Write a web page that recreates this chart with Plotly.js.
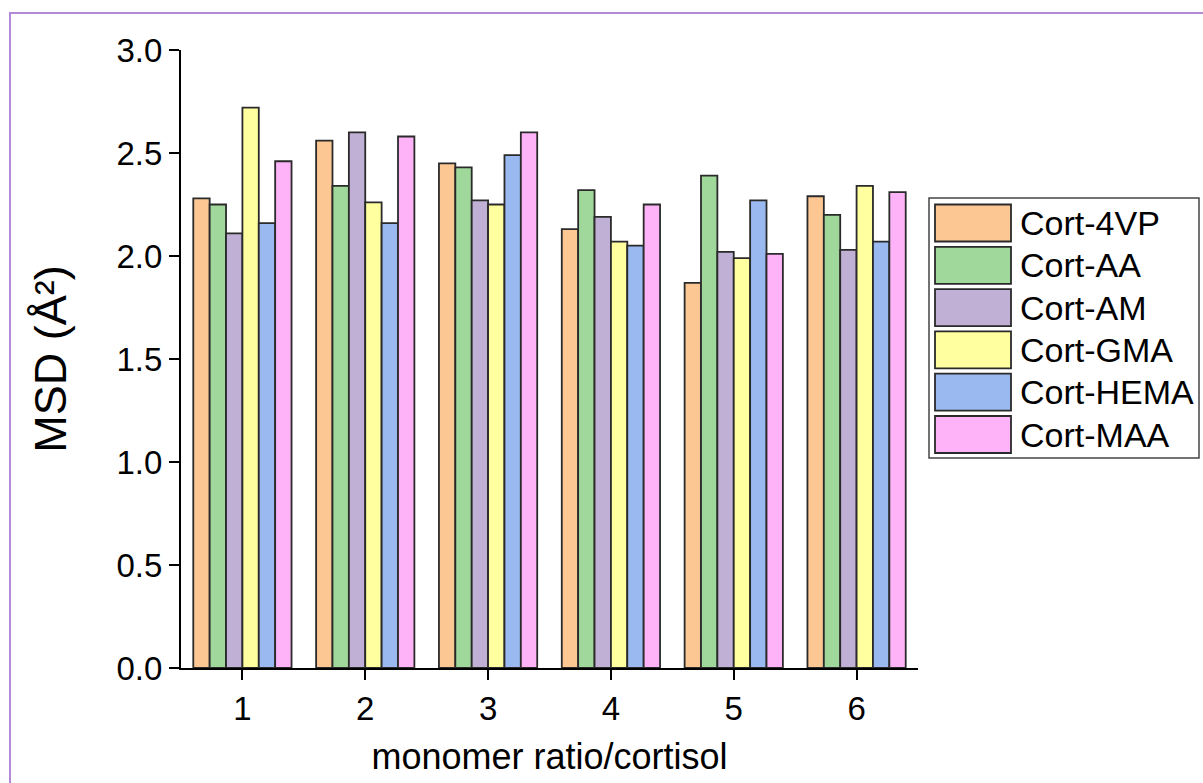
<!DOCTYPE html>
<html><head><meta charset="utf-8">
<script src="https://cdn.plot.ly/plotly-3.0.1.min.js"></script>
<style>
html,body{margin:0;padding:0;overflow:hidden;background:#fff}
#chart{position:absolute;left:0;top:0;width:1203px;height:783px}
#frame{position:absolute;left:9px;top:12px;width:1400px;height:1000px;border-left:2px solid #B28AD8;border-top:2px solid #B28AD8;pointer-events:none}
</style></head><body>
<div id="chart"></div><div id="frame"></div>
<script>
const categories = ['1', '2', '3', '4', '5', '6'];
const seriesNames = ['Cort-4VP', 'Cort-AA', 'Cort-AM', 'Cort-GMA', 'Cort-HEMA', 'Cort-MAA'];
const cort4VP  = [2.28, 2.56, 2.45, 2.13, 1.87, 2.29];
const cortAA   = [2.25, 2.34, 2.43, 2.32, 2.39, 2.20];
const cortAM   = [2.11, 2.60, 2.27, 2.19, 2.02, 2.03];
const cortGMA  = [2.72, 2.26, 2.25, 2.07, 1.99, 2.34];
const cortHEMA = [2.16, 2.16, 2.49, 2.05, 2.27, 2.07];
const cortMAA  = [2.46, 2.58, 2.60, 2.25, 2.01, 2.31];
const yTickVals = [0, 0.5, 1.0, 1.5, 2.0, 2.5, 3.0];
const yTickText = ['0.0', '0.5', '1.0', '1.5', '2.0', '2.5', '3.0'];
const colors = ['#FDC794', '#A0D89B', '#C0B0D6', '#FFFFA0', '#99B9F0', '#FEB3F8'];

const allSeries = [cort4VP, cortAA, cortAM, cortGMA, cortHEMA, cortMAA];
const FONT = 'Liberation Sans, Arial, sans-serif';

const traces = allSeries.map((vals, i) => ({
  type: 'bar',
  name: seriesNames[i],
  x: categories,
  y: vals,
  marker: {color: colors[i], line: {color: '#2a2a2a', width: 1.8}},
  showlegend: false,
  hoverinfo: 'x+y+name'
}));

// plot area in pixels
const L = 181, R = 918, T = 50, B = 668;
const px = v => (v - L) / (R - L);
const py = v => (B - v) / (B - T);

const shapes = [];
const annotations = [];
// legend box
shapes.push({type: 'rect', xref: 'paper', yref: 'paper', x0: px(929), x1: px(1199), y0: py(198), y1: py(458),
  line: {color: '#444444', width: 1.5}, fillcolor: 'rgba(0,0,0,0)'});
seriesNames.forEach((name, i) => {
  const top = 204.5 + i * 42.3;
  shapes.push({type: 'rect', xref: 'paper', yref: 'paper', x0: px(935), x1: px(1011), y0: py(top), y1: py(top + 37),
    line: {color: '#2a2a2a', width: 1.8}, fillcolor: colors[i]});
  annotations.push({xref: 'paper', yref: 'paper', x: px(1018), y: py(top + 18.5), xanchor: 'left', yanchor: 'middle',
    text: name, showarrow: false, font: {family: FONT, size: 34, color: '#000'}});
});

const layout = {
  width: 1203, height: 783,
  margin: {l: L, r: 1203 - R, t: T, b: 783 - B, pad: 0},
  paper_bgcolor: '#ffffff', plot_bgcolor: '#ffffff',
  barmode: 'group', bargap: 0.2, bargroupgap: 0,
  font: {family: FONT, color: '#000'},
  xaxis: {
    type: 'category', range: [-0.5, 5.5], showgrid: false, zeroline: false,
    showline: true, linecolor: '#000', linewidth: 2,
    ticks: 'outside', ticklen: 10, tickwidth: 2, tickcolor: '#000',
    tickfont: {family: FONT, size: 33, color: '#000'},
    title: {text: 'monomer ratio/cortisol', font: {family: FONT, size: 36, color: '#000'}, standoff: 18}
  },
  yaxis: {
    range: [0, 3.0], showgrid: false, zeroline: false,
    showline: true, linecolor: '#000', linewidth: 2,
    ticks: 'outside', ticklen: 10, tickwidth: 2, tickcolor: '#000',
    tickvals: yTickVals, ticktext: yTickText,
    tickfont: {family: FONT, size: 33, color: '#000'},
    title: {text: 'MSD (Å²)', font: {family: FONT, size: 45, color: '#000'}, standoff: 36}
  },
  shapes: shapes,
  annotations: annotations
};

Plotly.newPlot('chart', traces, layout, {displayModeBar: false, staticPlot: true});
</script>
</body></html>
